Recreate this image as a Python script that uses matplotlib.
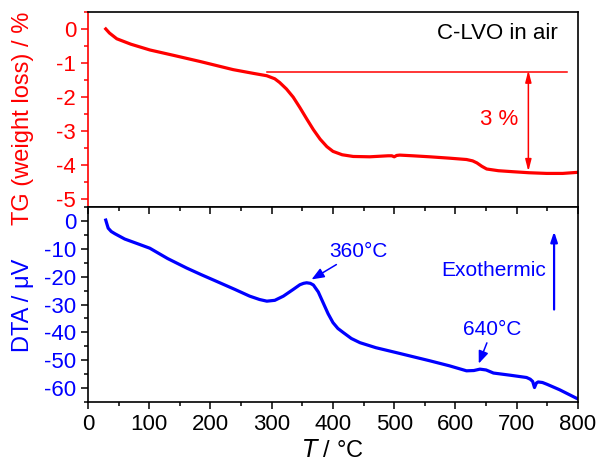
import matplotlib
matplotlib.use("Agg")
from matplotlib import pyplot as plt
from matplotlib.ticker import MultipleLocator
import numpy as np

plt.rcParams['font.family'] = ['Liberation Sans', 'DejaVu Sans']
plt.rcParams['axes.unicode_minus'] = False

# TG curve (weight loss, %)
tg_T = [29, 35, 47, 70, 101, 140, 183, 237, 270, 292, 305, 313, 324, 335, 346, 357,
        368, 379, 390, 400, 415, 433, 460, 490, 496, 500, 504, 509, 530, 558, 590,
        618, 628, 635, 643, 651, 670, 694, 720, 749, 775, 798]
tg_w = [0.0, -0.12, -0.29, -0.45, -0.62, -0.78, -0.96, -1.2, -1.31, -1.38, -1.47, -1.58,
        -1.77, -2.01, -2.32, -2.65, -2.97, -3.25, -3.47, -3.61, -3.71, -3.76, -3.77,
        -3.74, -3.74, -3.77, -3.73, -3.72, -3.74, -3.77, -3.81, -3.85, -3.89, -3.95,
        -4.05, -4.13, -4.18, -4.21, -4.24, -4.26, -4.26, -4.23]

# DTA curve (uV)
dta_T = [29, 31, 33, 38, 44, 60, 80, 101, 130, 161, 185, 210, 240, 264, 280, 292,
         305, 319, 335, 346, 352, 357, 363, 368, 376, 384, 392, 400, 408, 417, 430,
         444, 470, 504, 530, 558, 590, 618, 630, 640, 650, 662, 690, 716, 722, 726,
         729, 732, 735, 742, 749, 770, 798]
dta_v = [0.3, -1.2, -2.6, -3.8, -4.6, -6.5, -8.1, -9.8, -13.5, -16.9, -19.3, -21.7,
         -24.6, -27.0, -28.2, -28.8, -28.5, -27.0, -24.6, -22.9, -22.4, -22.2, -22.4,
         -23.0, -25.5, -29.4, -33.3, -36.5, -38.6, -40.1, -42.2, -43.7, -45.5, -47.3,
         -48.7, -50.2, -52.0, -53.8, -53.7, -53.2, -53.5, -54.6, -55.4, -56.2, -56.8,
         -57.6, -59.8, -58.2, -57.8, -58.0, -58.6, -60.6, -63.7]

baseline = -1.27
step_T = 719

fig = plt.figure(figsize=(5.99, 4.68), dpi=100)
ax1 = fig.add_axes([0.1469, 0.5577, 0.818, 0.4167])
ax2 = fig.add_axes([0.1469, 0.1410, 0.818, 0.4167])

red = '#ff0000'
blue = '#0000ff'

# ---- TG panel
ax1.plot(tg_T, tg_w, color=red, lw=2.3)
ax1.set_xlim(0, 800)
ax1.set_ylim(-5.25, 0.5)
ax1.yaxis.set_major_locator(MultipleLocator(1))
ax1.yaxis.set_minor_locator(MultipleLocator(0.5))
ax1.tick_params(axis='x', which='both', bottom=False, labelbottom=False)
ax1.tick_params(axis='y', which='major', colors=red, labelsize=16, length=5, width=1.1)
ax1.tick_params(axis='y', which='minor', colors=red, length=3, width=1.1)
ax1.spines['left'].set_color(red)
for s in ax1.spines.values():
    s.set_linewidth(1.2)

ax1.plot([292, 782], [baseline, baseline], color=red, lw=1.1)
ax1.annotate('', xy=(step_T, -4.2), xytext=(step_T, baseline + 0.05),
             arrowprops=dict(arrowstyle='<|-|>,head_length=0.7,head_width=0.18',
                             color=red, lw=1.1, shrinkA=0, shrinkB=0))
ax1.text(671, -2.68, '3 %', color=red, fontsize=16, ha='center', va='center')
ax1.text(767, -0.12, 'C-LVO in air', color='black', fontsize=16, ha='right', va='center')

# ---- DTA panel
ax2.plot(dta_T, dta_v, color=blue, lw=2.3)
ax2.set_xlim(0, 800)
ax2.set_ylim(-65, 5)
ax2.xaxis.set_major_locator(MultipleLocator(100))
ax2.xaxis.set_minor_locator(MultipleLocator(50))
ax2.yaxis.set_major_locator(MultipleLocator(10))
ax2.yaxis.set_minor_locator(MultipleLocator(5))
ax2.tick_params(axis='both', which='major', length=5, width=1.1, labelsize=16)
ax2.tick_params(axis='both', which='minor', length=3, width=1.1)
ax2.tick_params(axis='x', which='both', top=True)
ax2.tick_params(axis='y', labelcolor=blue)
for s in ax2.spines.values():
    s.set_linewidth(1.2)
# ticks on the shared border point down into the lower panel
for t in ax2.xaxis.get_major_ticks() + ax2.xaxis.get_minor_ticks():
    t.tick2line.set_marker(3)

ax2.set_xlabel('$\\it{T}$ / °C', fontsize=17, labelpad=4)

ax2.annotate('360°C', xy=(365, -21), xytext=(441, -11), color=blue, fontsize=15,
             ha='center', va='center',
             arrowprops=dict(arrowstyle='-|>,head_length=0.5,head_width=0.2', color=blue,
                             lw=1.1, shrinkA=1, shrinkB=0))
ax2.annotate('640°C', xy=(638, -51.2), xytext=(660, -38.9), color=blue, fontsize=15,
             ha='center', va='center',
             arrowprops=dict(arrowstyle='-|>,head_length=0.5,head_width=0.2', color=blue,
                             lw=1.1, shrinkA=1, shrinkB=0))
ax2.text(663, -17.9, 'Exothermic', color=blue, fontsize=15, ha='center', va='center')
ax2.annotate('', xy=(761, -3.8), xytext=(761, -31.8),
             arrowprops=dict(arrowstyle='-|>,head_length=0.6,head_width=0.2', color=blue,
                             lw=1.6, shrinkA=0, shrinkB=0))

fig.text(0.038, 1 - 118 / 468, 'TG (weight loss) / %', color=red, fontsize=17,
         rotation=90, ha='center', va='center')
fig.text(0.038, 1 - 305 / 468, 'DTA / μV', color=blue, fontsize=17,
         rotation=90, ha='center', va='center')

fig.savefig('out.png', dpi=100)
